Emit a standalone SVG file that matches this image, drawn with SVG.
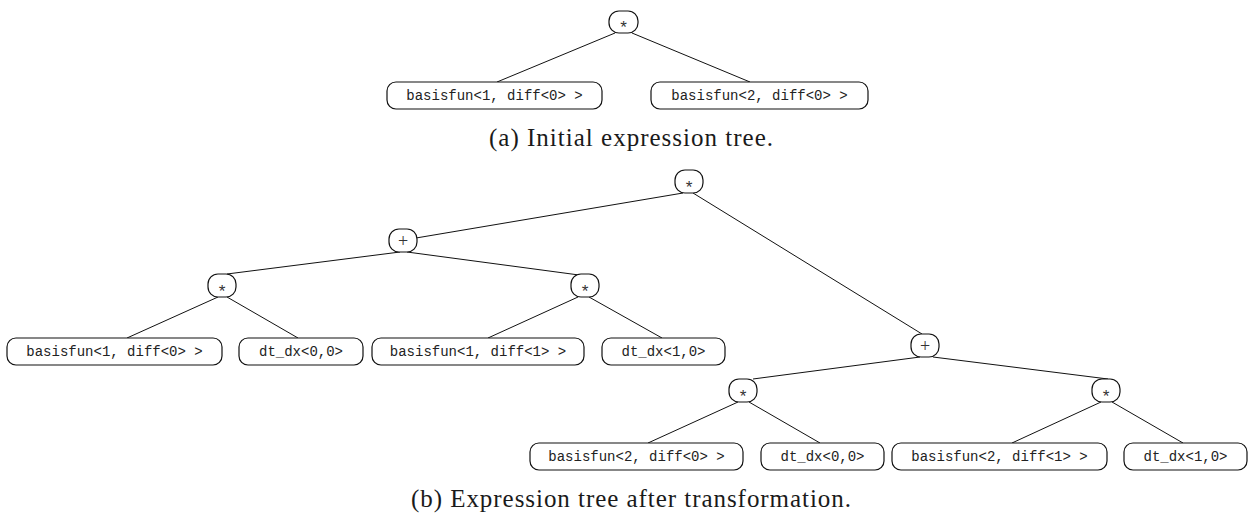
<svg xmlns="http://www.w3.org/2000/svg" width="1250" height="516" viewBox="0 0 1250 516">
  <style>
    .box { fill: #ffffff; stroke: #111111; stroke-width: 1.2; }
    .edge { stroke: #111111; stroke-width: 1; fill: none; }
    .leaf { font-family: "Liberation Mono", "DejaVu Sans Mono", monospace; font-size: 14px; fill: #222222; text-anchor: middle; }
    .star { font-family: "Liberation Mono", "DejaVu Sans Mono", monospace; font-size: 17px; fill: #333333; text-anchor: middle; }
    .plus { font-family: "Liberation Serif", "DejaVu Serif", serif; font-size: 18px; fill: #333333; text-anchor: middle; }
    .caption { font-family: "Liberation Serif", "DejaVu Serif", serif; font-size: 25px; fill: #1a1a1a; text-anchor: middle; }
  </style>
  <rect width="1250" height="516" fill="#ffffff"/>

  <!-- connectors -->
  <g id="connectors" class="edge">
    <!-- tree (a) -->
    <line x1="615" y1="33" x2="497" y2="82"/>
    <line x1="632" y1="33" x2="750" y2="82"/>
    <!-- tree (b) -->
    <line x1="683" y1="193" x2="416" y2="238"/>
    <line x1="693" y1="193" x2="922" y2="334"/>
    <line x1="400" y1="252" x2="227" y2="274"/>
    <line x1="407" y1="252" x2="579" y2="275"/>
    <line x1="218" y1="297" x2="127" y2="338"/>
    <line x1="227" y1="297" x2="298" y2="338"/>
    <line x1="578" y1="297" x2="488" y2="338"/>
    <line x1="589" y1="297" x2="662" y2="338"/>
    <line x1="920" y1="357" x2="753" y2="379"/>
    <line x1="933" y1="357" x2="1108" y2="379"/>
    <line x1="738" y1="402" x2="648" y2="443"/>
    <line x1="749" y1="402" x2="820" y2="443"/>
    <line x1="1101" y1="402" x2="1012" y2="443"/>
    <line x1="1112" y1="402" x2="1183" y2="443"/>
  </g>

  <!-- tree (a): initial expression -->
  <g id="a-mul">
    <rect class="box" x="609" y="11" width="29" height="22" rx="10"/>
    <text class="star" x="623.5" y="32.5">*</text>
  </g>
  <g id="a-basis1">
    <rect class="box" x="387" y="82" width="215" height="27" rx="9"/>
    <text class="leaf" x="494.5" y="100">basisfun&lt;1, diff&lt;0&gt; &gt;</text>
  </g>
  <g id="a-basis2">
    <rect class="box" x="651" y="82" width="217" height="27" rx="9"/>
    <text class="leaf" x="759.5" y="100">basisfun&lt;2, diff&lt;0&gt; &gt;</text>
  </g>
  <text id="caption-a" class="caption" x="631" y="146" textLength="284" lengthAdjust="spacing">(a) Initial expression tree.</text>

  <!-- tree (b): after transformation -->
  <g id="b-root">
    <rect class="box" x="675" y="170" width="28" height="23" rx="10"/>
    <text class="star" x="689" y="192.5">*</text>
  </g>
  <g id="b-sum-left">
    <rect class="box" x="389" y="229" width="28" height="23" rx="10"/>
    <text class="plus" x="403" y="247">+</text>
  </g>
  <g id="b-mul-1">
    <rect class="box" x="208" y="274" width="28" height="23" rx="10"/>
    <text class="star" x="222" y="296.5">*</text>
  </g>
  <g id="b-mul-2">
    <rect class="box" x="571" y="274" width="28" height="23" rx="10"/>
    <text class="star" x="585" y="296.5">*</text>
  </g>
  <g id="b-basis1-d0">
    <rect class="box" x="7" y="338" width="215" height="27" rx="9"/>
    <text class="leaf" x="114.5" y="356">basisfun&lt;1, diff&lt;0&gt; &gt;</text>
  </g>
  <g id="b-dtdx-00-a">
    <rect class="box" x="239" y="338" width="124" height="27" rx="9"/>
    <text class="leaf" x="301" y="356">dt_dx&lt;0,0&gt;</text>
  </g>
  <g id="b-basis1-d1">
    <rect class="box" x="372" y="338" width="212" height="27" rx="9"/>
    <text class="leaf" x="478" y="356">basisfun&lt;1, diff&lt;1&gt; &gt;</text>
  </g>
  <g id="b-dtdx-10-a">
    <rect class="box" x="602" y="338" width="123" height="27" rx="9"/>
    <text class="leaf" x="663.5" y="356">dt_dx&lt;1,0&gt;</text>
  </g>
  <g id="b-sum-right">
    <rect class="box" x="911" y="334" width="28" height="23" rx="10"/>
    <text class="plus" x="925" y="352">+</text>
  </g>
  <g id="b-mul-3">
    <rect class="box" x="729" y="379" width="28" height="23" rx="10"/>
    <text class="star" x="743" y="401.5">*</text>
  </g>
  <g id="b-mul-4">
    <rect class="box" x="1092" y="379" width="28" height="23" rx="10"/>
    <text class="star" x="1106" y="401.5">*</text>
  </g>
  <g id="b-basis2-d0">
    <rect class="box" x="530" y="443" width="213" height="27" rx="9"/>
    <text class="leaf" x="636.5" y="461">basisfun&lt;2, diff&lt;0&gt; &gt;</text>
  </g>
  <g id="b-dtdx-00-b">
    <rect class="box" x="761" y="443" width="123" height="27" rx="9"/>
    <text class="leaf" x="822.5" y="461">dt_dx&lt;0,0&gt;</text>
  </g>
  <g id="b-basis2-d1">
    <rect class="box" x="892" y="443" width="215" height="27" rx="9"/>
    <text class="leaf" x="999.5" y="461">basisfun&lt;2, diff&lt;1&gt; &gt;</text>
  </g>
  <g id="b-dtdx-10-b">
    <rect class="box" x="1124" y="443" width="123" height="27" rx="9"/>
    <text class="leaf" x="1185.5" y="461">dt_dx&lt;1,0&gt;</text>
  </g>
  <text id="caption-b" class="caption" x="631" y="507" textLength="440" lengthAdjust="spacing">(b) Expression tree after transformation.</text>
</svg>
